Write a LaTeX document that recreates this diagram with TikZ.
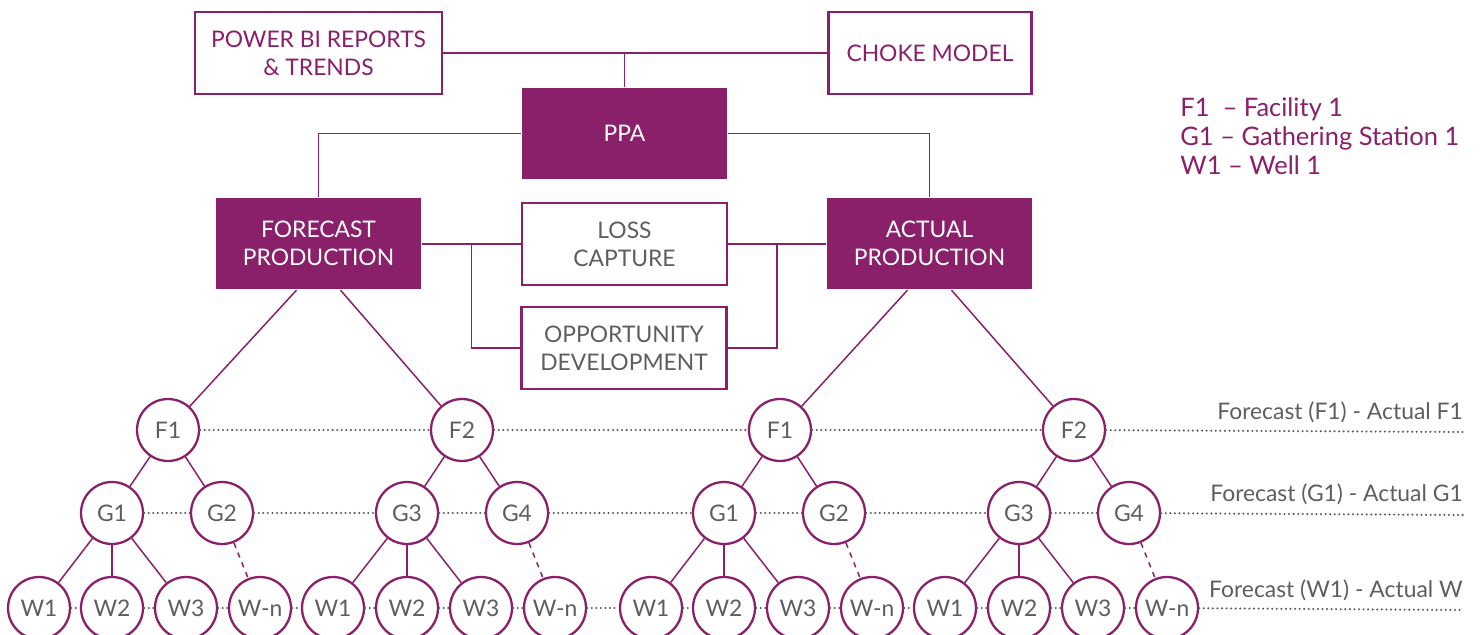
\documentclass[tikz,border=0pt]{standalone}
\usepackage{fontspec}
\setmainfont{Lato}
\usetikzlibrary{calc}
\definecolor{plum}{HTML}{8A1F6A}
\definecolor{greytx}{HTML}{5E5E5E}
\definecolor{dotgrey}{HTML}{5A5A5A}

\begin{document}
\begin{tikzpicture}[x=0.02cm,y=-0.02cm,
  base/.style={align=center,inner sep=2pt,font=\fontsize{13}{16}\selectfont,
               minimum width=4.1cm,minimum height=1.64cm,line width=1.3pt},
  outbox/.style={base,draw=plum,fill=white},
  solidbox/.style={base,fill=plum,text=white,minimum height=1.82cm},
  circ/.style={circle,draw=plum,line width=1.3pt,fill=white,text=greytx,
               minimum size=1.24cm,inner sep=0pt,font=\fontsize{13}{16}\selectfont},
  link/.style={plum,line width=0.85pt},
  dotline/.style={dotgrey,line width=1.3pt,line cap=round,dash pattern=on 0pt off 2.6pt},
  lbl/.style={text=greytx,inner sep=0pt,font=\fontsize{13}{16}\selectfont}]
  \useasboundingbox (0,0) rectangle (1482,635);
  % top boxes
  \node[outbox,text=plum,minimum width=4.94cm] (power) at (318.5,53) {POWER BI REPORTS\\\& TRENDS};
  \node[outbox,text=plum,minimum width=4.06cm] (choke) at (930,53) {CHOKE MODEL};
  \node[solidbox] (ppa) at (624.5,133.5) {PPA};
  \node[solidbox] (fp) at (318.5,243.5) {FORECAST\\PRODUCTION};
  \node[solidbox] (ap) at (929.5,243.5) {ACTUAL\\PRODUCTION};
  \node[outbox,text=greytx] (loss) at (624.5,244) {LOSS\\CAPTURE};
  \node[outbox,text=greytx] (opp) at (624,348) {OPPORTUNITY\\DEVELOPMENT};
  \draw[link] (power) -- (choke);
  \draw[link] (ppa.north) -- (ppa.north |- power.east);
  \draw[link] (ppa.west) -| (fp.north);
  \draw[link] (ppa.east) -| (ap.north);
  \draw[link] (fp.east |- loss.west) -- (loss.west);
  \draw[link] (loss.east) -- (ap.west |- loss.east);
  \draw[link] ($(fp.east |- loss.west)!0.5!(loss.west)$) |- (opp.west);
  \draw[link] ($(loss.east)!0.5!(ap.west |- loss.east)$) |- (opp.east);
  % legend
  \node[text=plum,anchor=base west,inner sep=0pt,align=left,font=\fontsize{14.5}{16.4}\selectfont]
       (legend) at (1180,174) {F1~~– Facility 1\\G1 – Gathering Station 1\\W1 – Well 1};
  % the two trees
  \foreach \s/\dx in {l/0,r/612}{
    \node[circ] (F1\s) at (168+\dx,430) {F1};
    \node[circ] (F2\s) at (462+\dx,430) {F2};
    \node[circ] (G1\s) at (112+\dx,513) {G1};
    \node[circ] (G2\s) at (222+\dx,513) {G2};
    \node[circ] (G3\s) at (407+\dx,513) {G3};
    \node[circ] (G4\s) at (517+\dx,513) {G4};
    \node[circ] (Wa1\s) at (39+\dx,608) {W1};
    \node[circ] (Wa2\s) at (112+\dx,608) {W2};
    \node[circ] (Wa3\s) at (186+\dx,608) {W3};
    \node[circ] (Wan\s) at (260+\dx,608) {W-n};
    \node[circ] (Wb1\s) at (333+\dx,608) {W1};
    \node[circ] (Wb2\s) at (407+\dx,608) {W2};
    \node[circ] (Wb3\s) at (481+\dx,608) {W3};
    \node[circ] (Wbn\s) at (555+\dx,608) {W-n};
    \draw[link] (F1\s) -- (G1\s);
    \draw[link] (F1\s) -- (G2\s);
    \draw[link] (F2\s) -- (G3\s);
    \draw[link] (F2\s) -- (G4\s);
    \draw[link] (G1\s) -- (Wa1\s);
    \draw[link] (G1\s) -- (Wa2\s);
    \draw[link] (G1\s) -- (Wa3\s);
    \draw[link,dashed] (G2\s) -- (Wan\s);
    \draw[link] (G3\s) -- (Wb1\s);
    \draw[link] (G3\s) -- (Wb2\s);
    \draw[link] (G3\s) -- (Wb3\s);
    \draw[link,dashed] (G4\s) -- (Wbn\s);
  }
  \draw[link] (F1l) -- ($(fp.south)+(-22,0)$);
  \draw[link] (F2l) -- ($(fp.south)+(22,0)$);
  \draw[link] (F1r) -- ($(ap.south)+(-22,0)$);
  \draw[link] (F2r) -- ($(ap.south)+(22,0)$);
  % forecast vs actual rows
  \coordinate (fend) at (1463,432);
  \coordinate (gend) at (1463,515);
  \coordinate (wend) at (1463,610);
  \foreach \a/\b in {F1l/F2l,F2l/F1r,F1r/F2r,F2r/fend,
                     G1l/G2l,G2l/G3l,G3l/G4l,G4l/G1r,G1r/G2r,G2r/G3r,G3r/G4r,G4r/gend,
                     Wa1l/Wa2l,Wa2l/Wa3l,Wa3l/Wanl,Wanl/Wb1l,Wb1l/Wb2l,Wb2l/Wb3l,Wb3l/Wbnl,Wbnl/Wa1r,
                     Wa1r/Wa2r,Wa2r/Wa3r,Wa3r/Wanr,Wanr/Wb1r,Wb1r/Wb2r,Wb2r/Wb3r,Wb3r/Wbnr,Wbnr/wend}
    \draw[dotline] (\a) -- (\b);
  \node[lbl,anchor=base east] (flbl) at (1463,419) {Forecast (F1) - Actual F1};
  \node[lbl,anchor=base east] (glbl) at (1463,501) {Forecast (G1) - Actual G1};
  \node[lbl,anchor=base east] (wlbl) at (1463,597) {Forecast (W1) - Actual W};
\end{tikzpicture}
\end{document}
